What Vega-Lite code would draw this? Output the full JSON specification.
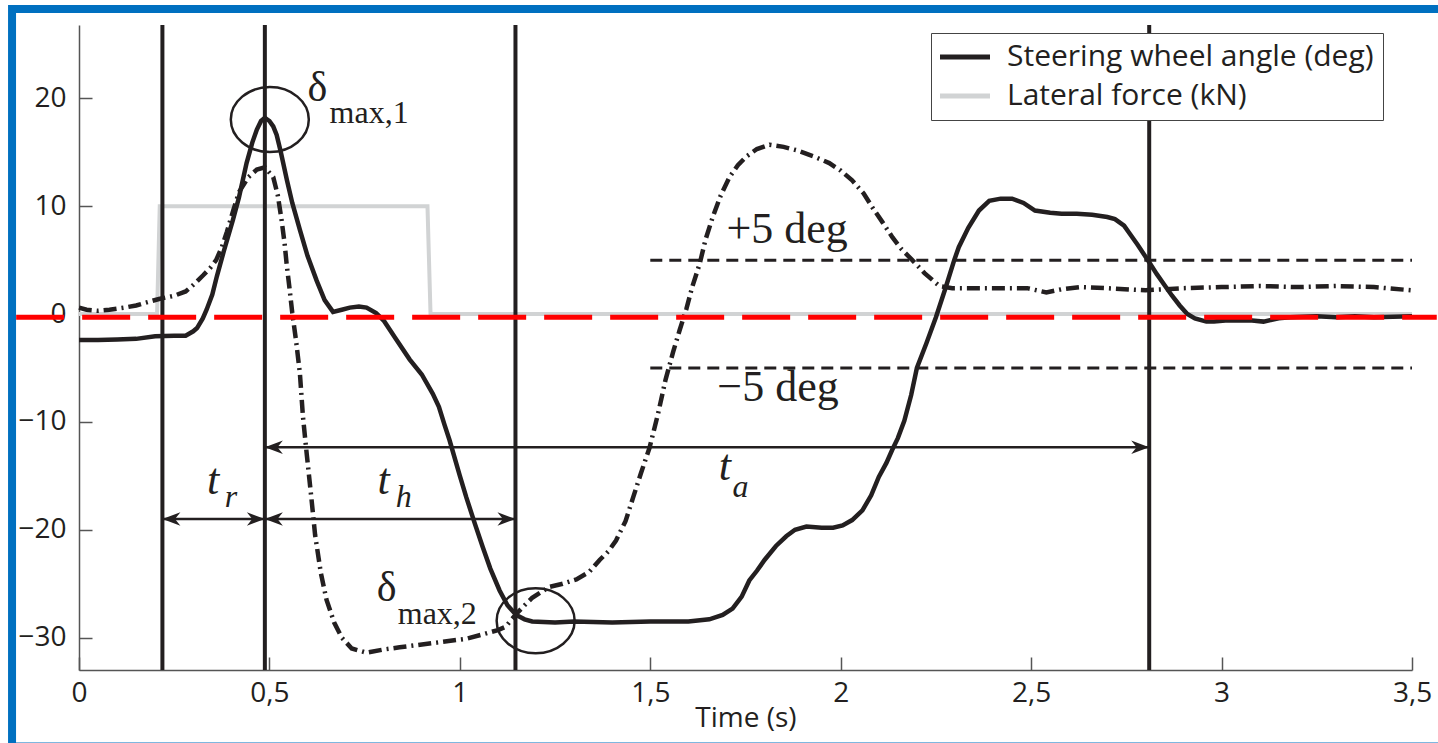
{
"$schema":"https://vega.github.io/schema/vega-lite/v6.json",
"width":1333,"height":645,
"autosize":{"type":"none"},
"padding":{"left":79,"top":25,"right":26,"bottom":73},
"background":"white",
"config":{
 "view":{"stroke":null},
 "text":{"font":"Liberation Serif","color":"#231f20"},
 "axis":{"grid":false,"tickSize":-13,"domainColor":"#555","tickColor":"#555","domainWidth":1.5,"tickWidth":1.5,"labelFont":"Open Sans","labelFontSize":28,"labelColor":"#231f20","titleFont":"Open Sans","titleFontSize":28,"titleColor":"#231f20","titleFontWeight":"normal","labelFlush":false},
 "legend":{"orient":"none","legendX":852,"legendY":8,"symbolType":"M-5,0H5","symbolSize":100,"symbolStrokeWidth":5,"symbolOffset":10,"labelOffset":27,"labelFont":"Open Sans","labelFontSize":30,"labelColor":"#231f20","labelLimit":0,"strokeColor":"#444","fillColor":"white","padding":9,"rowPadding":9,"labelBaseline":"middle"}
},
"datasets":{
 "force":[{"x":0,"y":0},{"x":0.205,"y":0},{"x":0.212,"y":10},{"x":0.915,"y":10},{"x":0.923,"y":0},{"x":3.5,"y":0}],
 "steer":[{"x":0,"y":-2.4},{"x":0.05,"y":-2.4},{"x":0.1,"y":-2.35},{"x":0.15,"y":-2.3},{"x":0.2,"y":-2.05},{"x":0.25,"y":-2.0},{"x":0.28,"y":-2.0},{"x":0.3,"y":-1.6},{"x":0.31,"y":-1.3},{"x":0.325,"y":-0.4},{"x":0.335,"y":0.4},{"x":0.35,"y":1.8},{"x":0.362,"y":3.5},{"x":0.38,"y":5.8},{"x":0.404,"y":8.7},{"x":0.42,"y":10.8},{"x":0.44,"y":14.0},{"x":0.455,"y":15.9},{"x":0.467,"y":17.1},{"x":0.478,"y":17.9},{"x":0.488,"y":18.2},{"x":0.5,"y":17.9},{"x":0.51,"y":17.4},{"x":0.519,"y":16.6},{"x":0.53,"y":15.0},{"x":0.546,"y":12.4},{"x":0.56,"y":10.3},{"x":0.58,"y":7.8},{"x":0.6,"y":5.4},{"x":0.624,"y":3.1},{"x":0.645,"y":1.3},{"x":0.667,"y":0.2},{"x":0.69,"y":0.4},{"x":0.711,"y":0.6},{"x":0.735,"y":0.7},{"x":0.755,"y":0.6},{"x":0.78,"y":0.1},{"x":0.8,"y":-0.6},{"x":0.83,"y":-2.2},{"x":0.868,"y":-4.2},{"x":0.9,"y":-5.6},{"x":0.929,"y":-7.4},{"x":0.945,"y":-8.6},{"x":0.96,"y":-10.3},{"x":0.973,"y":-11.7},{"x":1.0,"y":-15.0},{"x":1.017,"y":-17.0},{"x":1.04,"y":-19.5},{"x":1.06,"y":-21.6},{"x":1.08,"y":-23.6},{"x":1.104,"y":-25.6},{"x":1.125,"y":-27.0},{"x":1.148,"y":-27.9},{"x":1.17,"y":-28.3},{"x":1.19,"y":-28.5},{"x":1.25,"y":-28.6},{"x":1.3,"y":-28.5},{"x":1.4,"y":-28.6},{"x":1.5,"y":-28.5},{"x":1.6,"y":-28.5},{"x":1.655,"y":-28.3},{"x":1.69,"y":-27.9},{"x":1.716,"y":-27.3},{"x":1.74,"y":-26.2},{"x":1.76,"y":-24.7},{"x":1.78,"y":-23.8},{"x":1.8,"y":-22.8},{"x":1.83,"y":-21.5},{"x":1.857,"y":-20.6},{"x":1.88,"y":-20.0},{"x":1.91,"y":-19.7},{"x":1.95,"y":-19.8},{"x":1.98,"y":-19.8},{"x":2.005,"y":-19.6},{"x":2.03,"y":-19.1},{"x":2.057,"y":-18.2},{"x":2.08,"y":-16.8},{"x":2.1,"y":-15.1},{"x":2.12,"y":-13.8},{"x":2.135,"y":-12.6},{"x":2.15,"y":-11.5},{"x":2.167,"y":-9.9},{"x":2.185,"y":-7.5},{"x":2.2,"y":-5.0},{"x":2.225,"y":-2.7},{"x":2.25,"y":-0.3},{"x":2.275,"y":2.4},{"x":2.298,"y":5.0},{"x":2.31,"y":6.2},{"x":2.335,"y":8.0},{"x":2.363,"y":9.6},{"x":2.39,"y":10.5},{"x":2.42,"y":10.7},{"x":2.45,"y":10.7},{"x":2.48,"y":10.3},{"x":2.51,"y":9.6},{"x":2.55,"y":9.4},{"x":2.58,"y":9.3},{"x":2.62,"y":9.3},{"x":2.66,"y":9.2},{"x":2.7,"y":9.0},{"x":2.72,"y":8.8},{"x":2.744,"y":8.2},{"x":2.76,"y":7.4},{"x":2.78,"y":6.4},{"x":2.81,"y":4.8},{"x":2.83,"y":3.7},{"x":2.85,"y":2.7},{"x":2.87,"y":1.7},{"x":2.89,"y":0.8},{"x":2.91,"y":0.0},{"x":2.93,"y":-0.4},{"x":2.96,"y":-0.7},{"x":2.98,"y":-0.7},{"x":3.01,"y":-0.6},{"x":3.045,"y":-0.6},{"x":3.08,"y":-0.6},{"x":3.11,"y":-0.7},{"x":3.15,"y":-0.4},{"x":3.18,"y":-0.3},{"x":3.25,"y":-0.2},{"x":3.3,"y":-0.3},{"x":3.35,"y":-0.2},{"x":3.4,"y":-0.3},{"x":3.5,"y":-0.2}],
 "other":[{"x":0,"y":0.6},{"x":0.02,"y":0.4},{"x":0.05,"y":0.3},{"x":0.08,"y":0.4},{"x":0.12,"y":0.6},{"x":0.15,"y":0.8},{"x":0.18,"y":1.1},{"x":0.21,"y":1.4},{"x":0.25,"y":1.7},{"x":0.28,"y":2.1},{"x":0.3,"y":2.7},{"x":0.326,"y":3.6},{"x":0.345,"y":4.3},{"x":0.36,"y":5.0},{"x":0.375,"y":6.2},{"x":0.388,"y":7.6},{"x":0.405,"y":9.6},{"x":0.42,"y":11.3},{"x":0.445,"y":12.7},{"x":0.467,"y":13.4},{"x":0.488,"y":13.6},{"x":0.51,"y":12.7},{"x":0.522,"y":11.0},{"x":0.532,"y":8.7},{"x":0.54,"y":6.5},{"x":0.545,"y":4.7},{"x":0.553,"y":2.3},{"x":0.56,"y":0.1},{"x":0.57,"y":-2.5},{"x":0.58,"y":-5.5},{"x":0.588,"y":-9.5},{"x":0.598,"y":-13},{"x":0.61,"y":-17},{"x":0.62,"y":-20.5},{"x":0.635,"y":-24},{"x":0.65,"y":-26.5},{"x":0.67,"y":-28.6},{"x":0.69,"y":-30},{"x":0.716,"y":-31.0},{"x":0.755,"y":-31.4},{"x":0.8,"y":-31.1},{"x":0.842,"y":-30.9},{"x":0.93,"y":-30.5},{"x":1.017,"y":-30.1},{"x":1.06,"y":-29.7},{"x":1.1,"y":-29.3},{"x":1.12,"y":-29.0},{"x":1.148,"y":-27.8},{"x":1.17,"y":-27.0},{"x":1.19,"y":-26.3},{"x":1.235,"y":-25.3},{"x":1.27,"y":-25.0},{"x":1.306,"y":-24.6},{"x":1.34,"y":-23.9},{"x":1.367,"y":-22.8},{"x":1.39,"y":-22.0},{"x":1.41,"y":-21.0},{"x":1.435,"y":-19.2},{"x":1.455,"y":-17.0},{"x":1.475,"y":-14.8},{"x":1.498,"y":-12.4},{"x":1.52,"y":-9.3},{"x":1.54,"y":-6.1},{"x":1.56,"y":-3.5},{"x":1.577,"y":-1.5},{"x":1.595,"y":0.5},{"x":1.61,"y":2.5},{"x":1.63,"y":4.7},{"x":1.645,"y":6.9},{"x":1.664,"y":9.0},{"x":1.685,"y":11.0},{"x":1.708,"y":12.7},{"x":1.73,"y":13.8},{"x":1.752,"y":14.6},{"x":1.78,"y":15.3},{"x":1.813,"y":15.7},{"x":1.85,"y":15.5},{"x":1.883,"y":15.2},{"x":1.93,"y":14.6},{"x":1.97,"y":14.0},{"x":2.0,"y":13.3},{"x":2.03,"y":12.4},{"x":2.06,"y":11.2},{"x":2.083,"y":9.9},{"x":2.11,"y":8.5},{"x":2.136,"y":7.1},{"x":2.16,"y":6.0},{"x":2.188,"y":5.0},{"x":2.22,"y":3.8},{"x":2.259,"y":2.6},{"x":2.293,"y":2.4},{"x":2.35,"y":2.4},{"x":2.41,"y":2.4},{"x":2.49,"y":2.4},{"x":2.54,"y":2.0},{"x":2.58,"y":2.3},{"x":2.63,"y":2.5},{"x":2.7,"y":2.4},{"x":2.8,"y":2.2},{"x":2.9,"y":2.4},{"x":3.0,"y":2.5},{"x":3.1,"y":2.6},{"x":3.2,"y":2.5},{"x":3.3,"y":2.6},{"x":3.4,"y":2.5},{"x":3.5,"y":2.2}],
 "vlines":[{"x":0.219},{"x":0.488},{"x":1.146},{"x":2.81}],
 "lims":[{"y":5},{"y":-5}],
 "arrows":[{"x1":0.219,"x2":0.488,"y":-19.0},{"x1":0.488,"x2":1.146,"y":-19.0},{"x1":0.488,"x2":2.81,"y":-12.35}],
 "ells":[{"x":0.501,"y":18.03},{"x":1.199,"y":-28.44}],
 "deltas":[{"x":0.6,"y":19.75,"t":"δ"},{"x":0.782,"y":-26.6,"t":"δ"}],
 "subs":[{"x":0.658,"y":17.7,"t":"max,1"},{"x":0.837,"y":-28.7,"t":"max,2"}],
 "tees":[{"x":0.336,"y":-16.7,"t":"t"},{"x":0.784,"y":-16.7,"t":"t"},{"x":1.68,"y":-15.4,"t":"t"}],
 "tsubs":[{"x":0.383,"y":-17.9,"t":"r"},{"x":0.832,"y":-17.9,"t":"h"},{"x":1.716,"y":-17.0,"t":"a"}],
 "degs":[{"x":1.7,"y":6.58,"t":"+5 deg"},{"x":1.676,"y":-8.08,"t":"−5 deg"}]
},
"layer":[
 {"data":{"values":[{}]},
  "mark":{"type":"rect","filled":false,"color":"#0070c0","strokeWidth":8},
  "encoding":{
   "x":{"datum":-0.1758,"type":"quantitative","scale":{"domain":[0,3.5],"nice":false,"zero":false},"axis":{"title":"Time (s)","values":[0,0.5,1,1.5,2,2.5,3,3.5],"labelExpr":"replace(toString(datum.value),'.',',')","labelPadding":22,"titlePadding":-3}},
   "x2":{"datum":3.63},
   "y":{"datum":28.28,"type":"quantitative","scale":{"domain":[-33,26.8],"nice":false,"zero":false},"axis":{"title":null,"values":[-30,-20,-10,0,10,20],"labelExpr":"datum.value < 0 ? '−' + toString(-datum.value) : toString(datum.value)","labelPadding":26}},
   "y2":{"datum":-40.1}
  }},
 {"data":{"name":"force"},
  "mark":{"type":"line","strokeWidth":4},
  "encoding":{
   "x":{"field":"x","type":"quantitative","scale":{"domain":[0,3.5],"nice":false,"zero":false},"axis":{"title":"Time (s)","values":[0,0.5,1,1.5,2,2.5,3,3.5],"labelExpr":"replace(toString(datum.value),'.',',')","labelPadding":22,"titlePadding":-3}},
   "y":{"field":"y","type":"quantitative","scale":{"domain":[-33,26.8],"nice":false,"zero":false},"axis":{"title":null,"values":[-30,-20,-10,0,10,20],"labelExpr":"datum.value < 0 ? '−' + toString(-datum.value) : toString(datum.value)","labelPadding":26}},
   "color":{"datum":"Lateral force (kN)","type":"nominal","scale":{"domain":["Steering wheel angle (deg)","Lateral force (kN)"],"range":["#231f20","#d1d3d4"]},"legend":{"title":null}}
  }},
 {"data":{"name":"lims"},
  "mark":{"type":"rule","color":"#231f20","strokeWidth":3,"strokeDash":[12,7]},
  "encoding":{
   "x":{"datum":1.5,"type":"quantitative","scale":{"domain":[0,3.5],"nice":false,"zero":false},"axis":{"title":"Time (s)","values":[0,0.5,1,1.5,2,2.5,3,3.5],"labelExpr":"replace(toString(datum.value),'.',',')","labelPadding":22,"titlePadding":-3}},
   "x2":{"datum":3.5},
   "y":{"field":"y","type":"quantitative","scale":{"domain":[-33,26.8],"nice":false,"zero":false},"axis":{"title":null,"values":[-30,-20,-10,0,10,20],"labelExpr":"datum.value < 0 ? '−' + toString(-datum.value) : toString(datum.value)","labelPadding":26}}
  }},
 {"data":{"name":"vlines"},
  "mark":{"type":"rule","color":"#231f20","strokeWidth":4},
  "encoding":{
   "x":{"field":"x","type":"quantitative","scale":{"domain":[0,3.5],"nice":false,"zero":false},"axis":{"title":"Time (s)","values":[0,0.5,1,1.5,2,2.5,3,3.5],"labelExpr":"replace(toString(datum.value),'.',',')","labelPadding":22,"titlePadding":-3}}
  }},
 {"data":{"name":"other"},
  "mark":{"type":"line","color":"#231f20","strokeWidth":4.5,"strokeDash":[13,5,2,5]},
  "encoding":{
   "x":{"field":"x","type":"quantitative","scale":{"domain":[0,3.5],"nice":false,"zero":false},"axis":{"title":"Time (s)","values":[0,0.5,1,1.5,2,2.5,3,3.5],"labelExpr":"replace(toString(datum.value),'.',',')","labelPadding":22,"titlePadding":-3}},
   "y":{"field":"y","type":"quantitative","scale":{"domain":[-33,26.8],"nice":false,"zero":false},"axis":{"title":null,"values":[-30,-20,-10,0,10,20],"labelExpr":"datum.value < 0 ? '−' + toString(-datum.value) : toString(datum.value)","labelPadding":26}}
  }},
 {"data":{"name":"steer"},
  "mark":{"type":"line","strokeWidth":4.5},
  "encoding":{
   "x":{"field":"x","type":"quantitative","scale":{"domain":[0,3.5],"nice":false,"zero":false},"axis":{"title":"Time (s)","values":[0,0.5,1,1.5,2,2.5,3,3.5],"labelExpr":"replace(toString(datum.value),'.',',')","labelPadding":22,"titlePadding":-3}},
   "y":{"field":"y","type":"quantitative","scale":{"domain":[-33,26.8],"nice":false,"zero":false},"axis":{"title":null,"values":[-30,-20,-10,0,10,20],"labelExpr":"datum.value < 0 ? '−' + toString(-datum.value) : toString(datum.value)","labelPadding":26}},
   "color":{"datum":"Steering wheel angle (deg)","type":"nominal","scale":{"domain":["Steering wheel angle (deg)","Lateral force (kN)"],"range":["#231f20","#d1d3d4"]},"legend":{"title":null}}
  }},
 {"data":{"name":"ells"},
  "mark":{"type":"point","shape":"M-1,0A1,0.833,0,1,1,1,0A1,0.833,0,1,1,-1,0Z","size":6084,"filled":false,"color":"#231f20","strokeWidth":2.5,"opacity":1},
  "encoding":{
   "x":{"field":"x","type":"quantitative","scale":{"domain":[0,3.5],"nice":false,"zero":false},"axis":{"title":"Time (s)","values":[0,0.5,1,1.5,2,2.5,3,3.5],"labelExpr":"replace(toString(datum.value),'.',',')","labelPadding":22,"titlePadding":-3}},
   "y":{"field":"y","type":"quantitative","scale":{"domain":[-33,26.8],"nice":false,"zero":false},"axis":{"title":null,"values":[-30,-20,-10,0,10,20],"labelExpr":"datum.value < 0 ? '−' + toString(-datum.value) : toString(datum.value)","labelPadding":26}}
  }},
 {"data":{"name":"arrows"},
  "mark":{"type":"rule","color":"#231f20","strokeWidth":2.5},
  "encoding":{
   "x":{"field":"x1","type":"quantitative","scale":{"domain":[0,3.5],"nice":false,"zero":false},"axis":{"title":"Time (s)","values":[0,0.5,1,1.5,2,2.5,3,3.5],"labelExpr":"replace(toString(datum.value),'.',',')","labelPadding":22,"titlePadding":-3}},
   "x2":{"field":"x2"},
   "y":{"field":"y","type":"quantitative","scale":{"domain":[-33,26.8],"nice":false,"zero":false},"axis":{"title":null,"values":[-30,-20,-10,0,10,20],"labelExpr":"datum.value < 0 ? '−' + toString(-datum.value) : toString(datum.value)","labelPadding":26}}
  }},
 {"data":{"name":"arrows"},
  "mark":{"type":"point","shape":"M0,0L2,-0.75L1.4,0L2,0.75Z","size":324,"filled":true,"color":"#231f20","opacity":1,"strokeWidth":0},
  "encoding":{
   "x":{"field":"x1","type":"quantitative","scale":{"domain":[0,3.5],"nice":false,"zero":false},"axis":{"title":"Time (s)","values":[0,0.5,1,1.5,2,2.5,3,3.5],"labelExpr":"replace(toString(datum.value),'.',',')","labelPadding":22,"titlePadding":-3}},
   "y":{"field":"y","type":"quantitative","scale":{"domain":[-33,26.8],"nice":false,"zero":false},"axis":{"title":null,"values":[-30,-20,-10,0,10,20],"labelExpr":"datum.value < 0 ? '−' + toString(-datum.value) : toString(datum.value)","labelPadding":26}}
  }},
 {"data":{"name":"arrows"},
  "mark":{"type":"point","shape":"M0,0L-2,-0.75L-1.4,0L-2,0.75Z","size":324,"filled":true,"color":"#231f20","opacity":1,"strokeWidth":0},
  "encoding":{
   "x":{"field":"x2","type":"quantitative","scale":{"domain":[0,3.5],"nice":false,"zero":false},"axis":{"title":"Time (s)","values":[0,0.5,1,1.5,2,2.5,3,3.5],"labelExpr":"replace(toString(datum.value),'.',',')","labelPadding":22,"titlePadding":-3}},
   "y":{"field":"y","type":"quantitative","scale":{"domain":[-33,26.8],"nice":false,"zero":false},"axis":{"title":null,"values":[-30,-20,-10,0,10,20],"labelExpr":"datum.value < 0 ? '−' + toString(-datum.value) : toString(datum.value)","labelPadding":26}}
  }},
 {"data":{"name":"deltas"},
  "mark":{"type":"text","fontSize":42,"align":"left","baseline":"alphabetic"},
  "encoding":{
   "x":{"field":"x","type":"quantitative","scale":{"domain":[0,3.5],"nice":false,"zero":false},"axis":{"title":"Time (s)","values":[0,0.5,1,1.5,2,2.5,3,3.5],"labelExpr":"replace(toString(datum.value),'.',',')","labelPadding":22,"titlePadding":-3}},
   "y":{"field":"y","type":"quantitative","scale":{"domain":[-33,26.8],"nice":false,"zero":false},"axis":{"title":null,"values":[-30,-20,-10,0,10,20],"labelExpr":"datum.value < 0 ? '−' + toString(-datum.value) : toString(datum.value)","labelPadding":26}},
   "text":{"field":"t"}
  }},
 {"data":{"name":"subs"},
  "mark":{"type":"text","fontSize":32,"align":"left","baseline":"alphabetic"},
  "encoding":{
   "x":{"field":"x","type":"quantitative","scale":{"domain":[0,3.5],"nice":false,"zero":false},"axis":{"title":"Time (s)","values":[0,0.5,1,1.5,2,2.5,3,3.5],"labelExpr":"replace(toString(datum.value),'.',',')","labelPadding":22,"titlePadding":-3}},
   "y":{"field":"y","type":"quantitative","scale":{"domain":[-33,26.8],"nice":false,"zero":false},"axis":{"title":null,"values":[-30,-20,-10,0,10,20],"labelExpr":"datum.value < 0 ? '−' + toString(-datum.value) : toString(datum.value)","labelPadding":26}},
   "text":{"field":"t"}
  }},
 {"data":{"name":"tees"},
  "mark":{"type":"text","fontSize":44,"fontStyle":"italic","align":"left","baseline":"alphabetic"},
  "encoding":{
   "x":{"field":"x","type":"quantitative","scale":{"domain":[0,3.5],"nice":false,"zero":false},"axis":{"title":"Time (s)","values":[0,0.5,1,1.5,2,2.5,3,3.5],"labelExpr":"replace(toString(datum.value),'.',',')","labelPadding":22,"titlePadding":-3}},
   "y":{"field":"y","type":"quantitative","scale":{"domain":[-33,26.8],"nice":false,"zero":false},"axis":{"title":null,"values":[-30,-20,-10,0,10,20],"labelExpr":"datum.value < 0 ? '−' + toString(-datum.value) : toString(datum.value)","labelPadding":26}},
   "text":{"field":"t"}
  }},
 {"data":{"name":"tsubs"},
  "mark":{"type":"text","fontSize":32,"fontStyle":"italic","align":"left","baseline":"alphabetic"},
  "encoding":{
   "x":{"field":"x","type":"quantitative","scale":{"domain":[0,3.5],"nice":false,"zero":false},"axis":{"title":"Time (s)","values":[0,0.5,1,1.5,2,2.5,3,3.5],"labelExpr":"replace(toString(datum.value),'.',',')","labelPadding":22,"titlePadding":-3}},
   "y":{"field":"y","type":"quantitative","scale":{"domain":[-33,26.8],"nice":false,"zero":false},"axis":{"title":null,"values":[-30,-20,-10,0,10,20],"labelExpr":"datum.value < 0 ? '−' + toString(-datum.value) : toString(datum.value)","labelPadding":26}},
   "text":{"field":"t"}
  }},
 {"data":{"name":"degs"},
  "mark":{"type":"text","fontSize":44,"align":"left","baseline":"alphabetic"},
  "encoding":{
   "x":{"field":"x","type":"quantitative","scale":{"domain":[0,3.5],"nice":false,"zero":false},"axis":{"title":"Time (s)","values":[0,0.5,1,1.5,2,2.5,3,3.5],"labelExpr":"replace(toString(datum.value),'.',',')","labelPadding":22,"titlePadding":-3}},
   "y":{"field":"y","type":"quantitative","scale":{"domain":[-33,26.8],"nice":false,"zero":false},"axis":{"title":null,"values":[-30,-20,-10,0,10,20],"labelExpr":"datum.value < 0 ? '−' + toString(-datum.value) : toString(datum.value)","labelPadding":26}},
   "text":{"field":"t"}
  }},
 {"data":{"values":[{}]},
  "mark":{"type":"rule","color":"#ff0000","strokeWidth":5,"strokeDash":[48,18]},
  "encoding":{
   "x":{"datum":-0.165,"type":"quantitative","scale":{"domain":[0,3.5],"nice":false,"zero":false},"axis":{"title":"Time (s)","values":[0,0.5,1,1.5,2,2.5,3,3.5],"labelExpr":"replace(toString(datum.value),'.',',')","labelPadding":22,"titlePadding":-3}},
   "x2":{"datum":3.565},
   "y":{"datum":-0.3,"type":"quantitative","scale":{"domain":[-33,26.8],"nice":false,"zero":false},"axis":{"title":null,"values":[-30,-20,-10,0,10,20],"labelExpr":"datum.value < 0 ? '−' + toString(-datum.value) : toString(datum.value)","labelPadding":26}}
  }}
]
}
